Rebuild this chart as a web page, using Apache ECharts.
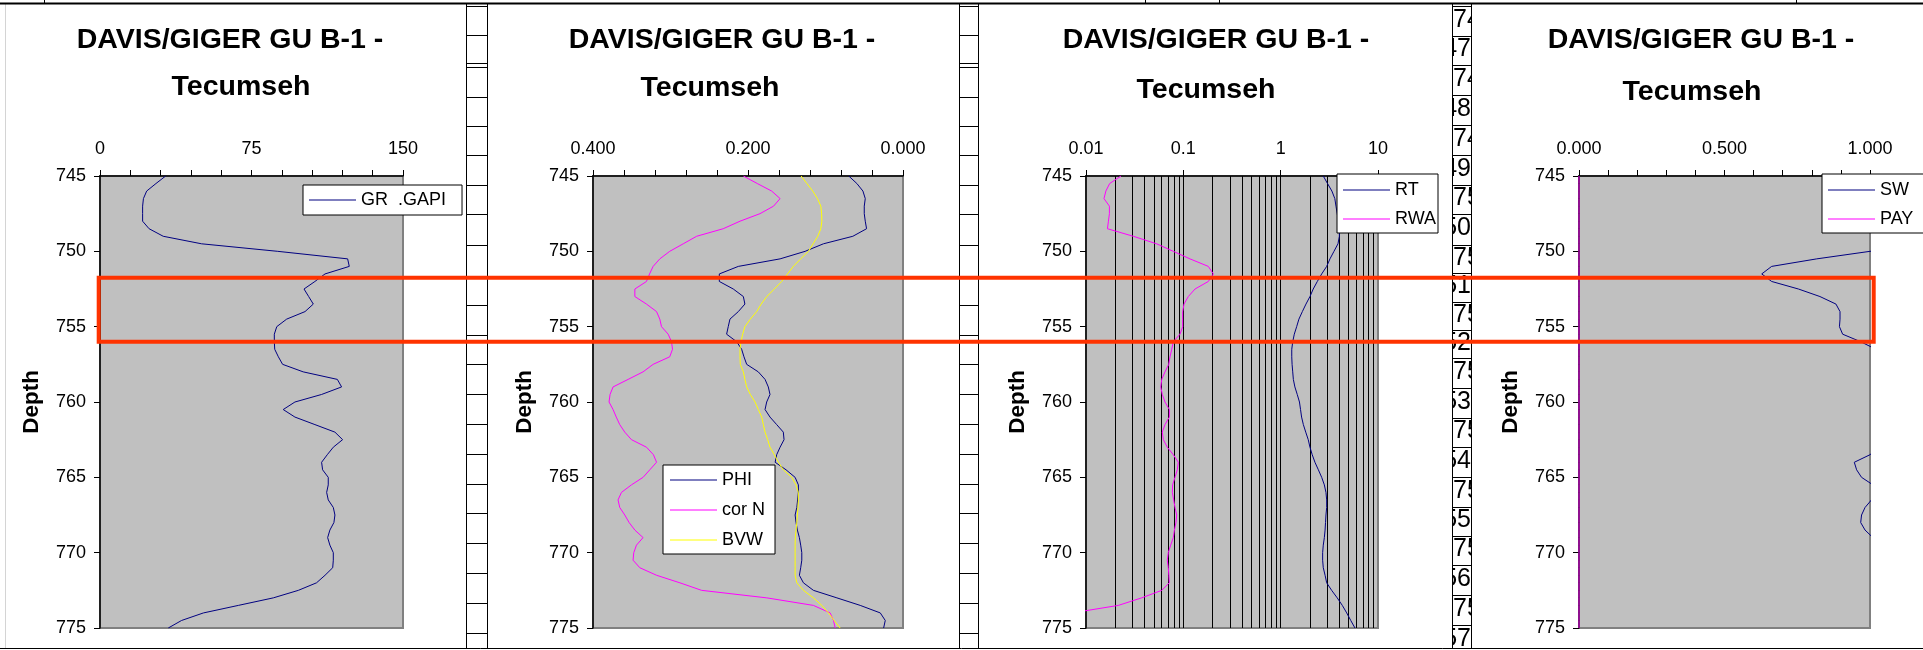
<!DOCTYPE html>
<html>
<head>
<meta charset="utf-8">
<title>DAVIS/GIGER GU B-1 - Tecumseh</title>
<script src="https://cdn.jsdelivr.net/npm/echarts@6/dist/echarts.min.js"></script>
<style>
  html, body { margin: 0; padding: 0; background: #fff; }
  #chart { width: 1923px; height: 650px; }
</style>
</head>
<body>
<div id="chart"></div>
<script>
// depth (ft), one reading every half foot
const depths = [745, 745.5, 746, 746.5, 747, 747.5, 748, 748.5, 749, 749.5,
  750, 750.5, 751, 751.5, 752, 752.5, 753, 753.5, 754, 754.5,
  755, 755.5, 756, 756.5, 757, 757.5, 758, 758.5, 759, 759.5,
  760, 760.5, 761, 761.5, 762, 762.5, 763, 763.5, 764, 764.5,
  765, 765.5, 766, 766.5, 767, 767.5, 768, 768.5, 769, 769.5,
  770, 770.5, 771, 771.5, 772, 772.5, 773, 773.5, 774, 774.5, 775];

const gr = [32.5, 27.7, 23.1, 21.5, 21.1, 21.1, 21.1, 24.3, 31.3, 50.3,
  88, 122.6, 123.4, 111.4, 106.4, 101, 103.3, 105.6, 101.5, 92.4,
  87.5, 86.3, 86.3, 86.5, 88.3, 90.4, 100.6, 117.5, 119.6, 109.7,
  96.5, 90.7, 96.5, 106.4, 116.3, 120.1, 115.5, 112.5, 109.7, 110.2,
  113, 113, 112.2, 113, 115.5, 116.3, 115.8, 113.8, 112.7, 113.8,
  115.5, 115.5, 115.2, 111.4, 107.2, 98.2, 85.8, 68.5, 51.2, 40.4, 33.8];

const phi = [0.070, 0.0595, 0.0517, 0.0487, 0.050, 0.050, 0.0487, 0.047, 0.0647, 0.1027,
  0.1263, 0.1586, 0.2125, 0.237, 0.237, 0.219, 0.206, 0.204, 0.2125, 0.2233,
  0.2255, 0.2276, 0.2146, 0.2082, 0.2052, 0.2017, 0.1867, 0.178, 0.1738, 0.1716,
  0.1759, 0.178, 0.1716, 0.163, 0.1544, 0.1535, 0.1586, 0.163, 0.165, 0.1509,
  0.1392, 0.135, 0.135, 0.136, 0.137, 0.1392, 0.138, 0.1363, 0.1337, 0.132,
  0.1306, 0.1306, 0.132, 0.1337, 0.1285, 0.1156, 0.0853, 0.0552, 0.0293, 0.0229, 0.025];

const corN = [0.206, 0.188, 0.1694, 0.1586, 0.167, 0.1845, 0.2103, 0.232, 0.2663, 0.2836,
  0.301, 0.3138, 0.3224, 0.327, 0.331, 0.346, 0.346, 0.331, 0.318, 0.3138,
  0.3116, 0.303, 0.2987, 0.2974, 0.301, 0.3224, 0.3354, 0.3547, 0.3741, 0.378,
  0.3793, 0.3741, 0.37, 0.3655, 0.359, 0.3504, 0.331, 0.322, 0.318, 0.3267,
  0.3354, 0.3504, 0.3633, 0.3677, 0.3655, 0.359, 0.3534, 0.346, 0.3354, 0.3439,
  0.3474, 0.3483, 0.3396, 0.318, 0.2879, 0.2599, 0.1758, 0.1156, 0.094, 0.0897, 0.0875];

const bvw = [0.1315, 0.124, 0.1164, 0.1104, 0.106, 0.105, 0.1047, 0.106, 0.110, 0.116,
  0.122, 0.132, 0.1415, 0.149, 0.1565, 0.166, 0.1758, 0.183, 0.1888, 0.197,
  0.204, 0.2069, 0.209, 0.2103, 0.2103, 0.2099, 0.206, 0.204, 0.2017, 0.197,
  0.1909, 0.1867, 0.1823, 0.1802, 0.178, 0.1746, 0.1716, 0.166, 0.1608, 0.1544,
  0.1435, 0.138, 0.135, 0.135, 0.1355, 0.1363, 0.137, 0.138, 0.139, 0.1392,
  0.1392, 0.1392, 0.1392, 0.1392, 0.137, 0.1285, 0.1156, 0.1047, 0.0962, 0.0888, 0.0811];

const rt = [2.74, 3.03, 3.36, 3.6, 3.70, 3.81, 3.93, 4.01, 4.01, 3.88,
  3.53, 3.21, 2.97, 2.64, 2.38, 2.16, 2.0, 1.82, 1.67, 1.54,
  1.46, 1.38, 1.33, 1.30, 1.30, 1.31, 1.33, 1.35, 1.40, 1.48,
  1.56, 1.60, 1.64, 1.71, 1.81, 1.92, 2.0, 2.11, 2.25, 2.44,
  2.64, 2.81, 2.92, 2.97, 2.97, 2.92, 2.89, 2.86, 2.81, 2.74,
  2.70, 2.70, 2.74, 2.86, 2.97, 3.34, 3.81, 4.30, 4.77, 5.25, 5.8];

const rwa = [0.0229, 0.0175, 0.0160, 0.0153, 0.0174, 0.0174, 0.0170, 0.0166, 0.0306, 0.0532,
  0.0789, 0.117, 0.1806, 0.2032, 0.1806, 0.1318, 0.1125, 0.1016, 0.0985, 0.0985,
  0.0985, 0.0924, 0.0789, 0.076, 0.073, 0.0708, 0.0648, 0.060, 0.0586, 0.0608,
  0.0648, 0.0718, 0.0718, 0.0648, 0.0608, 0.0623, 0.0684, 0.0789, 0.0888, 0.0867,
  0.0821, 0.0776, 0.0771, 0.0796, 0.0821, 0.0855, 0.084, 0.081, 0.0789, 0.0741,
  0.0701, 0.0684, 0.0701, 0.071, 0.0718, 0.060, 0.0373, 0.0215, 0.0072, 0.007, 0.007];

const sw = [1.6, 1.8, 2.0, 2.1, 2.1, 2.0, 1.9, 1.7, 1.5, 1.25,
  1.0, 0.817, 0.662, 0.628, 0.662, 0.754, 0.828, 0.883, 0.897, 0.897,
  0.895, 0.906, 0.968, 1.02, 1.08, 1.12, 1.15, 1.12, 1.1, 1.12,
  1.15, 1.17, 1.15, 1.12, 1.1, 1.07, 1.03, 1.0, 0.946, 0.954,
  0.971, 1.01, 1.03, 1.005, 0.983, 0.971, 0.968, 0.983, 1.01, 1.04,
  1.06, 1.07, 1.08, 1.1, 1.15, 1.25, 1.4, 1.6, 1.8, 1.9, 1.9];

const pay = [0, 0, 0, 0, 0, 0, 0, 0, 0, 0, 0, 0, 0, 0, 0, 0, 0, 0, 0, 0,
  0, 0, 0, 0, 0, 0, 0, 0, 0, 0, 0, 0, 0, 0, 0, 0, 0, 0, 0, 0,
  0, 0, 0, 0, 0, 0, 0, 0, 0, 0, 0, 0, 0, 0, 0, 0, 0, 0, 0, 0, 0];

// vertical grid lines of the resistivity track (log decades)
const logGridLines = [0.02, 0.03, 0.04, 0.05, 0.06, 0.07, 0.08, 0.09, 0.1,
  0.2, 0.3, 0.4, 0.5, 0.6, 0.7, 0.8, 0.9, 1,
  2, 3, 4, 5, 6, 7, 8, 9];

// marked interval (red box)
const highlightDepth = [751.75, 756];

const titleLine1 = 'DAVIS/GIGER GU B-1 -';
const titleLine2 = 'Tecumseh';

// spreadsheet cells showing between the charts
const cellText = ['74', '47', '74', '48', '74', '49', '75', '50', '75', '51', '75',
  '52', '75', '53', '75', '54', '75', '55', '75', '56', '75', '57'];

const font = '"Liberation Sans", Arial, sans-serif';
const NAVY = '#000080', MAGENTA = '#FF00FF', YELLOW = '#FFFF00';

const panels = [
  { left: 100, width: 303, t1: 230, t2: 241, top2: 73 },
  { left: 593, width: 310, t1: 722, t2: 710, top2: 74 },
  { left: 1086, width: 292, t1: 1216, t2: 1206, top2: 76 },
  { left: 1579, width: 291, t1: 1701, t2: 1692, top2: 78 }
];
const plotTop = 176, plotHeight = 452;

const pairs = vals => vals.map((v, i) => [v, depths[i]]);

const yAxisFor = i => ({
  type: 'value', gridIndex: i, min: 745, max: 775, interval: 5, inverse: true,
  name: 'Depth', nameLocation: 'middle', nameGap: 57,
  nameTextStyle: { fontSize: 22.5, fontWeight: 'bold', color: '#000', fontFamily: font },
  axisLine: { show: true, onZero: false, lineStyle: { color: '#000', width: 1.5 } },
  axisTick: { show: true, length: 6, lineStyle: { color: '#000' } },
  axisLabel: { fontSize: 18, color: '#000', margin: 14, fontFamily: font },
  splitLine: { show: false }
});

const xAxisFor = (i, extra) => Object.assign({
  type: 'value', gridIndex: i, position: 'top',
  axisLine: { show: true, onZero: false, lineStyle: { color: '#000', width: 1.5 } },
  axisTick: { show: true, length: 6, lineStyle: { color: '#000' } },
  minorTick: { show: true, splitNumber: 5, length: 6, lineStyle: { color: '#000' } },
  axisLabel: { fontSize: 18, color: '#000', margin: 18, fontFamily: font },
  splitLine: { show: false },
  minorSplitLine: { show: false }
}, extra);

const curve = (name, idx, vals, color) => ({
  name, type: 'line', xAxisIndex: idx, yAxisIndex: idx,
  data: pairs(vals), symbol: 'none', clip: true, z: 10,
  lineStyle: { color, width: 1 }, itemStyle: { color }
});

const legendFor = (names, left, top, padding, gap) => ({
  data: names, left, top, padding, orient: 'vertical', icon: 'rect',
  itemWidth: 47, itemHeight: 1, itemGap: gap, selectedMode: false, z: 20,
  backgroundColor: '#fff', borderColor: '#000', borderWidth: 1, borderRadius: 0,
  textStyle: { fontSize: 18, color: '#000', fontFamily: font }
});

const fixed3 = v => v.toFixed(3);

const titles = [];
panels.forEach(p => {
  titles.push({ text: titleLine1, left: p.t1, top: 26, textAlign: 'center', padding: 0,
    textStyle: { fontSize: 28.5, fontWeight: 'bold', color: '#000', fontFamily: font } });
  titles.push({ text: titleLine2, left: p.t2, top: p.top2, textAlign: 'center', padding: 0,
    textStyle: { fontSize: 28.5, fontWeight: 'bold', color: '#000', fontFamily: font } });
});

// spreadsheet backdrop
const graphic = [];
const hline = (x1, x2, y, color, w, z) => graphic.push({ type: 'line', silent: true, z,
  shape: { x1, y1: y, x2, y2: y }, style: { stroke: color, lineWidth: w } });
const vline = (x, y1, y2, color, w, z) => graphic.push({ type: 'line', silent: true, z,
  shape: { x1: x, y1, x2: x, y2 }, style: { stroke: color, lineWidth: w } });

const rowsA = [6, 35, 63, 67, 97, 126, 155, 185, 214, 245, 276, 305, 335, 364, 394, 424, 454, 484, 513, 543, 573, 603, 633];
const rowsB = [6, 36, 65, 95, 125, 155, 185, 214, 245, 273, 302, 330, 358, 388, 418, 447, 477, 507, 536, 565, 595, 625];
rowsA.forEach(y => { hline(466, 487, y + 0.5, '#000', 1, -10); hline(959, 978, y + 0.5, '#000', 1, -10); });
rowsB.forEach(y => hline(1452, 1472, y + 0.5, '#000', 1, -10));
cellText.forEach((t, i) => {
  const y0 = rowsB[i], y1 = i + 1 < rowsB.length ? rowsB[i + 1] : 655;
  graphic.push({ type: 'text', silent: true, z: -10, x: i % 2 ? 1471 : 1453, y: (y0 + y1) / 2 - 1,
    style: { text: t, font: '25px ' + font, fill: '#000',
      textAlign: i % 2 ? 'right' : 'left', textVerticalAlign: 'middle' } });
});
// chart areas (white)
[[5, 466], [487, 959], [978, 1452], [1472, 1940]].forEach(([a, b]) => {
  graphic.push({ type: 'rect', silent: true, z: -5, shape: { x: a, y: 4, width: b - a, height: 644 },
    style: { fill: '#fff' } });
});
[466.5, 487.5, 959.5, 978.5, 1452.5, 1471.5].forEach(x => vline(x, 4, 648, '#000', 1, -4));
vline(5.5, 4, 648, '#d4d4d4', 1, -4);
hline(0, 1923, 3.5, '#000', 2, -4);
hline(0, 1923, 648.5, '#000', 1, -4);
[44.5, 1145.5, 1219.5, 1796.5].forEach(x => vline(x, 0, 3, '#000', 1, -4));

const option = {
  animation: false,
  backgroundColor: '#fff',
  textStyle: { fontFamily: font },
  title: titles,
  grid: panels.map(p => ({
    left: p.left, top: plotTop, width: p.width, height: plotHeight, containLabel: false,
    show: true, backgroundColor: '#C0C0C0', borderColor: '#808080', borderWidth: 2
  })),
  xAxis: [
    xAxisFor(0, { min: 0, max: 150, interval: 75 }),
    xAxisFor(1, { min: 0, max: 0.4, interval: 0.2, inverse: true, axisLabel: { fontSize: 18, color: '#000', margin: 18, fontFamily: font, formatter: fixed3 } }),
    xAxisFor(2, { type: 'log', logBase: 10, min: 0.01, max: 10, minorTick: { show: false },
      axisLabel: { fontSize: 18, color: '#000', margin: 18, fontFamily: font, formatter: v => String(+v.toPrecision(4)) } }),
    xAxisFor(3, { min: 0, max: 1, interval: 0.5, axisLabel: { fontSize: 18, color: '#000', margin: 18, fontFamily: font, formatter: fixed3 } })
  ],
  yAxis: [yAxisFor(0), yAxisFor(1), yAxisFor(2), yAxisFor(3)],
  legend: [
    legendFor(['GR  .GAPI'], 303, 185, [6, 16, 6, 6], 11),
    legendFor(['PHI', 'cor N', 'BVW'], 663, 465, [6, 10, 5, 7], 12),
    legendFor(['RT', 'RWA'], 1337, 174, [7, 2, 5, 6], 11),
    legendFor(['SW', 'PAY'], 1822, 174, [7, 60, 5, 6], 11)
  ],
  series: [
    curve('GR  .GAPI', 0, gr, NAVY),
    curve('PHI', 1, phi, NAVY),
    curve('cor N', 1, corN, MAGENTA),
    curve('BVW', 1, bvw, YELLOW),
    {
      name: 'logGrid', type: 'line', xAxisIndex: 2, yAxisIndex: 2, data: [], silent: true, z: 3,
      markLine: {
        silent: true, symbol: ['none', 'none'], label: { show: false }, animation: false,
        lineStyle: { color: '#000', width: 1, type: 'solid' },
        data: logGridLines.map(v => ({ xAxis: v }))
      }
    },
    curve('RT', 2, rt, NAVY),
    curve('RWA', 2, rwa, MAGENTA),
    curve('SW', 3, sw, NAVY),
    curve('PAY', 3, pay, MAGENTA)
  ],
  graphic
};

const chart = echarts.init(document.getElementById('chart'));
chart.setOption(option);

// red box around the marked interval, placed through the depth axis
const yA = chart.convertToPixel({ yAxisIndex: 0 }, highlightDepth[0]);
const yB = chart.convertToPixel({ yAxisIndex: 0 }, highlightDepth[1]);
option.graphic.push({ type: 'rect', silent: true, z: 100,
  shape: { x: 98.7, y: yA, width: 1775, height: yB - yA },
  style: { fill: null, stroke: '#FF3300', lineWidth: 4 } });
chart.setOption(option, true);
</script>
</body>
</html>
